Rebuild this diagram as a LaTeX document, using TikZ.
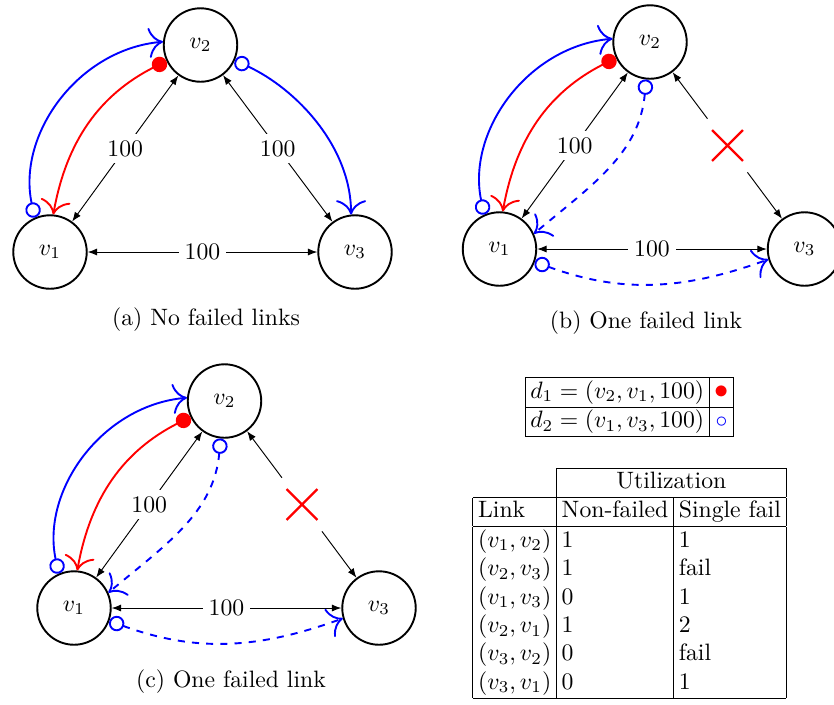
\documentclass[tikz,border=0pt]{standalone}
\usepackage{xcolor}
\usepackage{tikz}
\usetikzlibrary{arrows.meta,shapes.misc}
\setlength{\tabcolsep}{2.2pt}

\begin{document}
\begin{tikzpicture}[
  x=0.422pt, y=0.422pt,
  vnode/.style={
    draw,
    circle,
    thick,
    minimum size=31pt,
    inner sep=0pt
  },
  linkarrow/.style={{Latex[length=4pt]}-{Latex[length=4pt]}},
  linkhalf/.style={-{Latex[length=4pt]}, shorten <=6pt},
  linklabel/.style={fill=white, inner sep=2.5pt},
  failmark/.style={cross out, draw=red, line width=1pt, minimum size=13pt, inner sep=0pt, outer sep=0pt},
  demandone/.style={thick, red, {Circle[length=6.5pt]}-{Computer Modern Rightarrow[scale=1.8]}},
  demandtwo/.style={thick, blue, {Circle[open,length=6.5pt]}-{Computer Modern Rightarrow[scale=1.8]}}
]
  \useasboundingbox (0,0) rectangle (834,-704);

  % --- (a) NO FAILED LINKS ---
  \begin{scope}[shift={(50,-252)}]
    \node[vnode] (a1) at (0,0) {$v_1$};
    \node[vnode] (a2) at (150.5,207) {$v_2$};
    \node[vnode] (a3) at (305,0) {$v_3$};
    \draw[linkarrow] (a1) -- node[linklabel] {100} (a2);
    \draw[linkarrow] (a2) -- node[linklabel] {100} (a3);
    \draw[linkarrow] (a1) -- node[linklabel] {100} (a3);
    \draw[demandtwo] (a1.114) to[out=102, in=185] (a2.175);
    \draw[demandone] (a2.205) to[out=207, in=80] (a1.85);
    \draw[demandtwo] (a2.336) to[out=-25, in=90, looseness=0.9] (a3.96);
    \node (capa) at (156,-68) {(a) No failed links};
  \end{scope}

  % --- (b) ONE FAILED LINK ---
  \begin{scope}[shift={(499.5,-249)}]
    \node[vnode] (b1) at (0,0) {$v_1$};
    \node[vnode] (b2) at (150.5,207) {$v_2$};
    \node[vnode] (b3) at (305,0) {$v_3$};
    \node[failmark] (bx) at (228,103.5) {};
    \draw[linkarrow] (b1) -- node[linklabel] {100} (b2);
    \draw[linkhalf] (bx) -- (b2);
    \draw[linkhalf] (bx) -- (b3);
    \draw[linkarrow] (b1) -- node[linklabel] {100} (b3);
    \draw[demandtwo] (b1.114) to[out=102, in=185] (b2.175);
    \draw[demandone] (b2.205) to[out=207, in=80] (b1.85);
    \draw[demandtwo, dashed] (b2.264) to[out=-95, in=40] (b1.24);
    \draw[demandtwo, dashed] (b1.340) to[out=-20, in=200] (b3.196);
    \node (capb) at (146.5,-74) {(b) One failed link};
  \end{scope}

  % --- (c) ONE FAILED LINK ---
  \begin{scope}[shift={(74,-608)}]
    \node[vnode] (c1) at (0,0) {$v_1$};
    \node[vnode] (c2) at (150.5,207) {$v_2$};
    \node[vnode] (c3) at (305,0) {$v_3$};
    \node[failmark] (cx) at (228,103.5) {};
    \draw[linkarrow] (c1) -- node[linklabel] {100} (c2);
    \draw[linkhalf] (cx) -- (c2);
    \draw[linkhalf] (cx) -- (c3);
    \draw[linkarrow] (c1) -- node[linklabel] {100} (c3);
    \draw[demandtwo] (c1.114) to[out=102, in=185] (c2.175);
    \draw[demandone] (c2.205) to[out=207, in=80] (c1.85);
    \draw[demandtwo, dashed] (c2.264) to[out=-95, in=40] (c1.24);
    \draw[demandtwo, dashed] (c1.340) to[out=-20, in=200] (c3.196);
    \node (capc) at (157,-74) {(c) One failed link};
  \end{scope}

  % Demand legend
  \node[anchor=north, inner sep=0pt] (demands) at (629.5,-377) {
    \begin{tabular}{|l|c|}
      \hline
      $d_1 = (v_2, v_1, 100)$ & {\color{red}\large$\bullet$} \\ \hline
      $d_2 = (v_1, v_3, 100)$ & {\color{blue}$\circ$} \\ \hline
    \end{tabular}
  };

  % Utilization table
  \node[anchor=north, inner sep=0pt] (util) at (629.5,-468) {
    \begin{tabular}{|l|l|l|}
      \cline{2-3}
      \multicolumn{1}{c|}{} & \multicolumn{2}{c|}{Utilization} \\ \hline
      Link & Non-failed & Single fail \\ \hline
      $(v_1, v_2)$ & 1 & 1 \\
      $(v_2, v_3)$ & 1 & fail \\
      $(v_1, v_3)$ & 0 & 1 \\
      $(v_2, v_1)$ & 1 & 2 \\
      $(v_3, v_2)$ & 0 & fail \\
      $(v_3, v_1)$ & 0 & 1 \\ \hline
    \end{tabular}
  };

\end{tikzpicture}
\end{document}
